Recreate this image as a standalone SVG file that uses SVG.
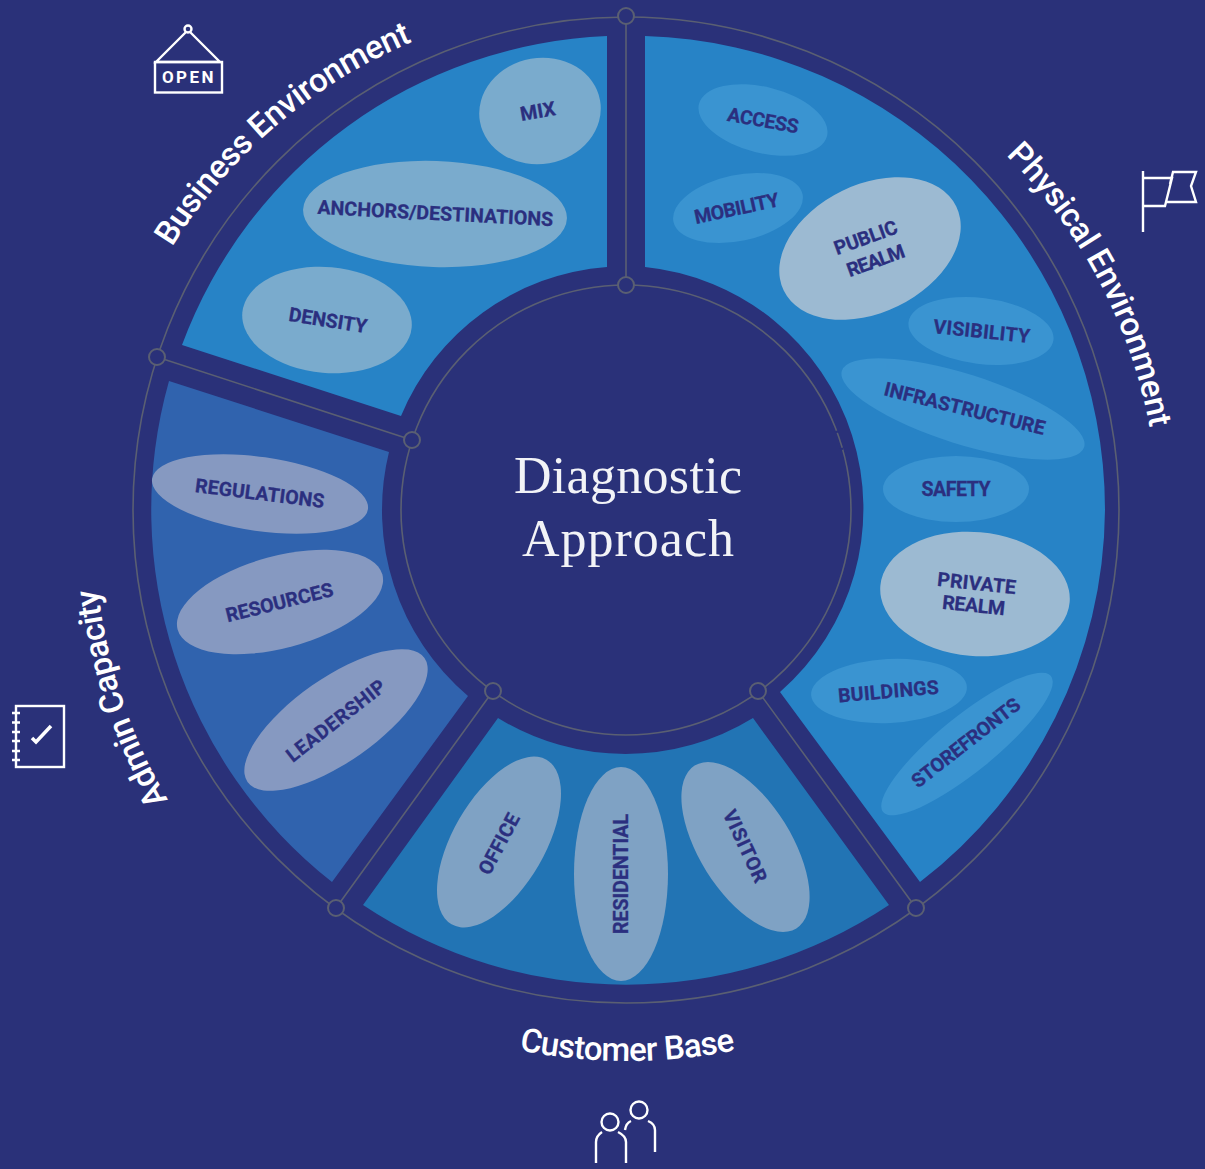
<svg xmlns="http://www.w3.org/2000/svg" width="1205" height="1169" viewBox="0 0 1205 1169">
<style>
.seg-b{fill:#2783c6}.seg-a{fill:#3063ae}.seg-c{fill:#2274b4}
.l1{fill:#3a94d1}.l2{fill:#9cbad2}.l3{fill:#7aabcd}.l4{fill:#8699c1}.l5{fill:#7fa2c4}
.lab{font-family:"Roboto","Liberation Sans",sans-serif;font-weight:700;font-size:19.5px;fill:#2b2f7f;stroke:#2b2f7f;stroke-width:.3;text-anchor:middle}
.cur{font-family:"Roboto","Liberation Sans",sans-serif;font-weight:500;font-size:33px;fill:#fff}
.ttl{font-family:"Liberation Serif",serif;font-size:52px;fill:#f2f3f7;text-anchor:middle}
.ring{fill:none;stroke:#5a5f72;stroke-width:1.6}
.dot{fill:#2a3179;stroke:#5a5f72;stroke-width:2}
.ic{fill:none;stroke:#fff;stroke-width:2.4}
</style>
<defs>
<path id="pB" d="M172 247 A520 520 0 0 1 449.400 27.800"/>
<path id="pP" d="M1006 155 A522 522 0 0 1 1152 440"/>
<path id="pA" d="M168 800 A540 540 0 0 1 96 570"/>
<path id="pC" d="M518 1050 A551 551 0 0 0 742 1049"/>
</defs>
<rect width="1205" height="1169" fill="#2a3179"/>
<g id="segments">
<path class="seg-b" d="M645 36 A474 474 0 0 1 1105 510 A474 474 0 0 1 920 882 L780 692 A243 243 0 0 0 645 267 Z"/>
<path class="seg-b" d="M607 36 A474 474 0 0 0 182 345 L401 416 A243 243 0 0 1 607 267 Z"/>
<path class="seg-a" d="M169 381 A474 474 0 0 0 332 882 L468 696 A244 244 0 0 1 389 452 Z"/>
<path class="seg-c" d="M363 905 A474 474 0 0 0 889 905 L753 718 A244 244 0 0 1 498 718 Z"/>
</g>
<g id="connectors">
<circle class="ring" cx="626" cy="510" r="493"/>
<circle class="ring" cx="626" cy="510" r="225"/>
<path class="ring" d="M626 16V285M157 357L412 440M336 908L493 691M916 908L758 691"/>
<path d="M836.200 430.800L837.200 432.800M841.300 448L842 450" fill="none" stroke="#2a3179" stroke-width="3"/>
</g>
<g id="dots">
<circle class="dot" cx="626" cy="16" r="8"/><circle class="dot" cx="626" cy="285" r="8"/>
<circle class="dot" cx="157" cy="357" r="8"/><circle class="dot" cx="412" cy="440" r="8"/>
<circle class="dot" cx="336" cy="908" r="8"/><circle class="dot" cx="493" cy="691" r="8"/>
<circle class="dot" cx="916" cy="908" r="8"/><circle class="dot" cx="758" cy="691" r="8"/>
</g>
<g id="center"><text class="ttl" x="628" y="493" textLength="228">Diagnostic</text><text class="ttl" x="628" y="556" textLength="212">Approach</text></g>
<g id="mix"><ellipse class="l3" cx="540" cy="111" rx="61" ry="53" transform="rotate(-10 540 111)"/><text class="lab" transform="translate(539 118) rotate(-10)">MIX</text></g>
<g id="anchors"><ellipse class="l3" cx="435" cy="214" rx="132" ry="53" transform="rotate(2 435 214)"/><text class="lab" textLength="236" transform="translate(435 220) rotate(3)">ANCHORS/DESTINATIONS</text></g>
<g id="density"><ellipse class="l3" cx="327" cy="320" rx="85" ry="53" transform="rotate(5 327 320)"/><text class="lab" textLength="79" transform="translate(327 327) rotate(9)">DENSITY</text></g>
<g id="access"><ellipse class="l1" cx="763" cy="120" rx="66" ry="33" transform="rotate(14 763 120)"/><text class="lab" textLength="72" transform="translate(762 127) rotate(10)">ACCESS</text></g>
<g id="mobility"><ellipse class="l1" cx="738" cy="208" rx="66" ry="33" transform="rotate(-12 738 208)"/><text class="lab" textLength="86" transform="translate(738 215) rotate(-12)">MOBILITY</text></g>
<g id="public-realm"><ellipse class="l2" cx="870" cy="248.500" rx="96" ry="64" transform="rotate(-26 870 248.500)"/><text class="lab" textLength="66" transform="translate(868 244) rotate(-20)">PUBLIC</text><text class="lab" textLength="60" transform="translate(878 267) rotate(-20)">REALM</text></g>
<g id="visibility"><ellipse class="l1" cx="981" cy="331" rx="73" ry="33" transform="rotate(7 981 331)"/><text class="lab" textLength="97" transform="translate(981 338) rotate(6)">VISIBILITY</text></g>
<g id="infrastructure"><ellipse class="l1" cx="963" cy="409" rx="127" ry="35" transform="rotate(17.500 963 409)"/><text class="lab" textLength="165" transform="translate(963 415) rotate(14)">INFRASTRUCTURE</text></g>
<g id="safety"><ellipse class="l1" cx="956" cy="489" rx="73" ry="33"/><text class="lab" textLength="69" x="956" y="496">SAFETY</text></g>
<g id="private-realm"><ellipse class="l2" cx="975" cy="594" rx="95" ry="62" transform="rotate(5 975 594)"/><text class="lab" textLength="79" transform="translate(976 590) rotate(6)">PRIVATE</text><text class="lab" textLength="63" transform="translate(973 612) rotate(6)">REALM</text></g>
<g id="buildings"><ellipse class="l1" cx="889" cy="691" rx="78" ry="32" transform="rotate(-3 889 691)"/><text class="lab" textLength="101" transform="translate(889 698) rotate(-5)">BUILDINGS</text></g>
<g id="storefronts"><ellipse class="l1" cx="967" cy="744" rx="108" ry="28" transform="rotate(-39 967 744)"/><text class="lab" textLength="132" transform="translate(970 748) rotate(-38)">STOREFRONTS</text></g>
<g id="visitor"><ellipse class="l5" cx="745.500" cy="847" rx="46" ry="96" transform="rotate(-32 745.500 847)"/><text class="lab" textLength="78" transform="translate(739 849) rotate(65)">VISITOR</text></g>
<g id="residential"><ellipse class="l5" cx="621" cy="874" rx="47" ry="107"/><text class="lab" textLength="120" transform="translate(628 874) rotate(-90)">RESIDENTIAL</text></g>
<g id="office"><ellipse class="l5" cx="499" cy="842" rx="46" ry="95" transform="rotate(30 499 842)"/><text class="lab" textLength="66" transform="translate(505 847) rotate(-62)">OFFICE</text></g>
<g id="leadership"><ellipse class="l4" cx="336" cy="720" rx="108" ry="42" transform="rotate(-35 336 720)"/><text class="lab" textLength="120" transform="translate(340 726) rotate(-38)">LEADERSHIP</text></g>
<g id="resources"><ellipse class="l4" cx="280" cy="602" rx="106" ry="46" transform="rotate(-15 280 602)"/><text class="lab" textLength="110" transform="translate(281 609) rotate(-14)">RESOURCES</text></g>
<g id="regulations"><ellipse class="l4" cx="260" cy="494" rx="109" ry="37" transform="rotate(8 260 494)"/><text class="lab" textLength="130" transform="translate(259 500) rotate(7)">REGULATIONS</text></g>
<g id="titles">
<text class="cur"><textPath href="#pB" textLength="321">Business Environment</textPath></text>
<text class="cur"><textPath href="#pP" textLength="313">Physical Environment</textPath></text>
<text class="cur"><textPath href="#pA" textLength="224">Admin Capacity</textPath></text>
<text class="cur"><textPath href="#pC" startOffset="1" textLength="218">Customer Base</textPath></text>
</g>
<g id="icon-open" class="ic"><circle cx="188" cy="29" r="3.5"/><path d="M186 32L156 62H220L190 32"/><rect x="155" y="62" width="67" height="30.500"/><text x="189" y="83" text-anchor="middle" font-family="Roboto,'Liberation Sans',sans-serif" font-weight="700" font-size="17" letter-spacing="2.500" fill="#fff" stroke="none">OPEN</text></g>
<g id="icon-flag" class="ic"><path d="M1143 171V232M1143 178H1172L1165 206H1143M1167 202H1196L1191 186L1196 172H1173L1170 184"/></g>
<g id="icon-notebook" class="ic"><rect x="16" y="706" width="48" height="61"/><path d="M12 713H20M12 722.500H20M12 732H20M12 741H20M12 751H20M12 760H20"/><path d="M32 738L36 742L51 726" stroke-width="3.500"/></g>
<g id="icon-people" class="ic"><circle cx="610" cy="1122" r="8.500"/><circle cx="639" cy="1110" r="8.500"/><path d="M596 1163V1142Q596 1136 602 1132M618 1132Q626 1136 626 1142V1163M625 1130Q626 1123 631 1121M648 1121Q655 1124 655 1130V1152"/></g>
</svg>
